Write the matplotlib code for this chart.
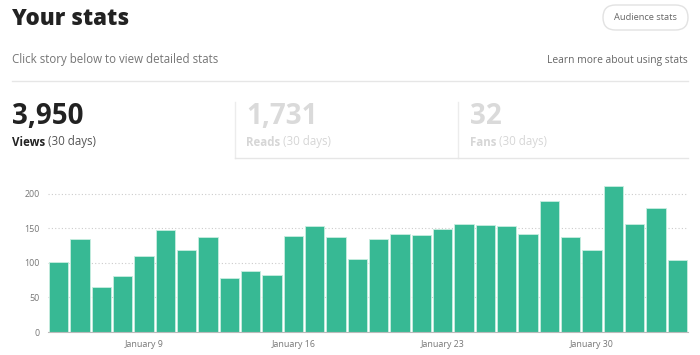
import numpy as np
import pandas as pd
import matplotlib
matplotlib.use("Agg")
import matplotlib.pyplot as plt
import matplotlib.dates as mdates
from matplotlib.patches import FancyBboxPatch
from matplotlib.lines import Line2D
from matplotlib.transforms import IdentityTransform

plt.rcParams['font.family'] = ['Open Sans', 'DejaVu Sans']

# daily views, 30 days from Jan 5
days = pd.date_range('2018-01-05', periods=30, freq='D')
views = [102, 135, 65, 81, 110, 148, 119, 138, 78, 89, 82, 139, 153, 137, 105,
         135, 142, 141, 149, 157, 155, 154, 142, 189, 137, 118, 212, 156, 179, 104]
tick_days = pd.to_datetime(['2018-01-09', '2018-01-16', '2018-01-23', '2018-01-30'])
yticks = [0, 50, 100, 150, 200]

stat_names = ['Views', 'Reads', 'Fans']
stat_values = ['3,950', '1,731', '32']

W, H = 700, 355
fig = plt.figure(figsize=(7, 3.55), dpi=100)

def fx(px):
    return px / W

def fy(py):
    return 1 - py / H

# header
fig.text(fx(12), fy(19), 'Your stats', fontsize=16, fontweight='heavy',
         color='#222222', va='center', ha='left')
fig.text(fx(12), fy(59), 'Click story below to view detailed stats', fontsize=8.3,
         color='#757575', va='center', ha='left')
fig.text(fx(688), fy(61), 'Learn more about using stats', fontsize=7.4,
         color='#666666', va='center', ha='right')

# pill button, drawn in pixel space
btn = FancyBboxPatch((603, H - 30), 85, 25,
                     boxstyle='round,pad=0,rounding_size=12.5',
                     transform=IdentityTransform(), facecolor='white',
                     edgecolor='#e2e2e2', linewidth=1)
fig.patches.append(btn)
fig.text(fx(645.5), fy(18), 'Audience stats', fontsize=6.7, color='#666666',
         va='center', ha='center')

# separator lines
fig.add_artist(Line2D([fx(12), fx(688)], [fy(81), fy(81)], color='#e6e6e6', lw=1))
for xl in [235, 458]:
    fig.add_artist(Line2D([fx(xl), fx(xl)], [fy(102), fy(158)], color='#ececec', lw=1))
fig.add_artist(Line2D([fx(235), fx(688)], [fy(158), fy(158)], color='#e6e6e6', lw=1))

# stat blocks
stat_x = [12, 246, 470]
for i, (name, val) in enumerate(zip(stat_names, stat_values)):
    active = i == 0
    c_big = '#222222' if active else '#dadada'
    c_name = '#222222' if active else '#d6d6d6'
    c_sub = '#555555' if active else '#d6d6d6'
    fig.text(fx(stat_x[i]), fy(116), val, fontsize=20, fontweight='bold',
             color=c_big, va='center', ha='left')
    t = fig.text(fx(stat_x[i]), fy(142), name, fontsize=8.3, fontweight='bold',
                 color=c_name, va='center', ha='left')
    fig.canvas.draw()
    bb = t.get_window_extent()
    fig.text(bb.x1 / W + fx(3), fy(142), '(30 days)', fontsize=8.3,
             color=c_sub, va='center', ha='left')

# chart
ax = fig.add_axes([fx(48), fy(332), fx(640), (332 - 180) / H])
ax.bar(days, views, width=0.92, color='#37b994', edgecolor='#c8eee0',
       linewidth=0.6, align='center', zorder=2)
ax.set_xlim(days[0] - pd.Timedelta(hours=12), days[-1] + pd.Timedelta(hours=12))
ax.set_ylim(0, 220)
ax.set_yticks(yticks)
ax.set_xticks(tick_days)
ax.xaxis.set_major_formatter(mdates.DateFormatter('%B %-d'))
ax.tick_params(axis='both', length=0, labelsize=6.4, colors='#777777')
ax.tick_params(axis='y', pad=6)
ax.tick_params(axis='x', pad=6)
ax.grid(axis='y', linestyle=(0, (1, 2)), color='#cccccc', linewidth=0.8, zorder=0)
for s in ['top', 'right', 'left']:
    ax.spines[s].set_visible(False)
ax.spines['bottom'].set_color('#bbbbbb')
ax.spines['bottom'].set_zorder(3)

fig.savefig('out.png', dpi=100)
